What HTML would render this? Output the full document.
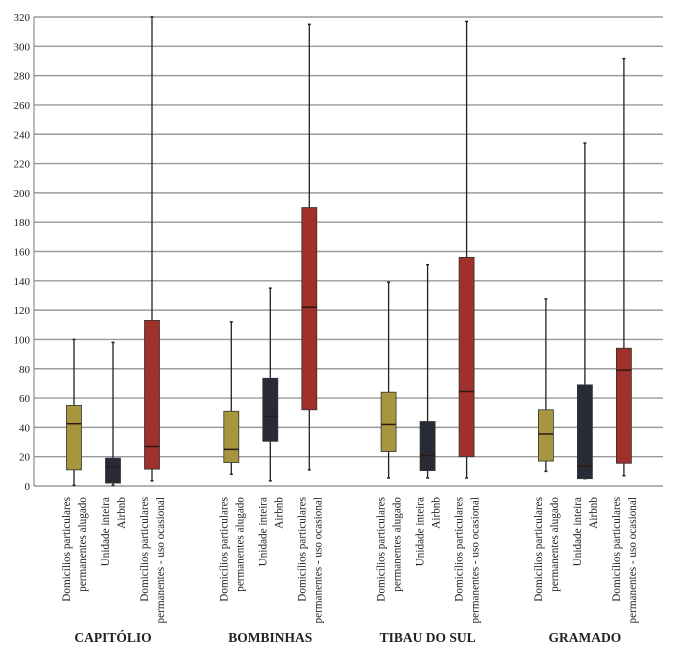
<!DOCTYPE html>
<html><head><meta charset="utf-8"><style>
html,body{margin:0;padding:0;background:#fff;}
svg{display:block;}
text{font-family:"Liberation Serif",serif;fill:#222;}
</style></head><body>
<svg id="chart" width="679" height="650" xmlns="http://www.w3.org/2000/svg"></svg>
<script>
const groups = ["CAPITÓLIO","BOMBINHAS","TIBAU DO SUL","GRAMADO"];
const seriesNames = ["Domicílios particulares|permanentes alugado","Unidade inteira|Airbnb","Domicílios particulares|permanentes - uso ocasional"];
const seriesColors = ["#a8963e","#282b36","#a0302a"];
const mins = [[0.5,0.5,3.5],[8,3.5,11],[5.5,5.5,5.5],[10,5,7]];
const q1s = [[11,2,11.5],[16,30.5,52],[23.5,10.5,20],[17,5,15.5]];
const medians = [[42.5,13,27],[25,47.5,122],[42,20.7,64.5],[35.5,13.7,79]];
const q3s = [[55,19,113],[51,73.5,190],[64,44,156],[52,69,94]];
const maxs = [[100,98,320],[112,135,315],[139,151,317],[127.6,234,291.6]];
const yTicks = [0,20,40,60,80,100,120,140,160,180,200,220,240,260,280,300,320];

const svg = document.getElementById('chart');
const NS = "http://www.w3.org/2000/svg";
const x0 = 34, x1 = 663, y0 = 486, y1 = 17, yMax = 320;
const y = v => y0 - (v / yMax) * (y0 - y1);
const groupCenter = g => 113 + g * 157.3;
const boxX = (g, s) => groupCenter(g) + (s - 1) * 39;
function mk(tag, attrs){const e=document.createElementNS(NS,tag);for(const k in attrs)e.setAttribute(k,attrs[k]);svg.appendChild(e);return e;}

yTicks.forEach(t=>{
  const l = mk('line',{x1:x0,x2:x1,y1:y(t),y2:y(t),stroke:'#9a9a9a','stroke-width':1.4});
  
  
  const tx = mk('text',{x:30,y:y(t)+4,'text-anchor':'end','font-size':11,fill:'#333'});
  tx.textContent = t;
  
  
});
const ax = mk('line',{x1:x0,x2:x0,y1:y1,y2:y0,stroke:'#777','stroke-width':1});



groups.forEach((gName,g)=>{
  for(let s=0;s<3;s++){
    const cx = boxX(g,s), w = 15;
    const wh = mk('line',{x1:cx,x2:cx,y1:y(maxs[g][s]),y2:y(mins[g][s]),stroke:'#222','stroke-width':1.3});
    
    
    [maxs[g][s],mins[g][s]].forEach(v=>{
      const c = mk('line',{x1:cx-1.5,x2:cx+1.5,y1:y(v),y2:y(v),stroke:'#222','stroke-width':1.5});
      
      
    });
    const b = mk('rect',{x:cx-w/2,y:y(q3s[g][s]),width:w,height:y(q1s[g][s])-y(q3s[g][s]),fill:seriesColors[s],stroke:'#333','stroke-width':0.8});
    
    
    const m = mk('line',{x1:cx-w/2,x2:cx+w/2,y1:y(medians[g][s]),y2:y(medians[g][s]),stroke:'#2a1a14','stroke-width':1.5});
    
    
    const lines = seriesNames[s].split('|');
    lines.forEach((ln,i)=>{
      const bx = cx + (i===0 ? -4 : 12), by = 497;
      const t = mk('text',{x:bx,y:by,'text-anchor':'end','font-size':11.2,transform:`rotate(-90 ${bx} ${by})`});
      t.textContent = ln;
      
      
    });
  }
  const gt = mk('text',{x:groupCenter(g),y:642,'text-anchor':'middle','font-size':13.5,'font-weight':'bold',fill:'#111'});
  gt.textContent = gName;
  
  
});
</script>
</body></html>
